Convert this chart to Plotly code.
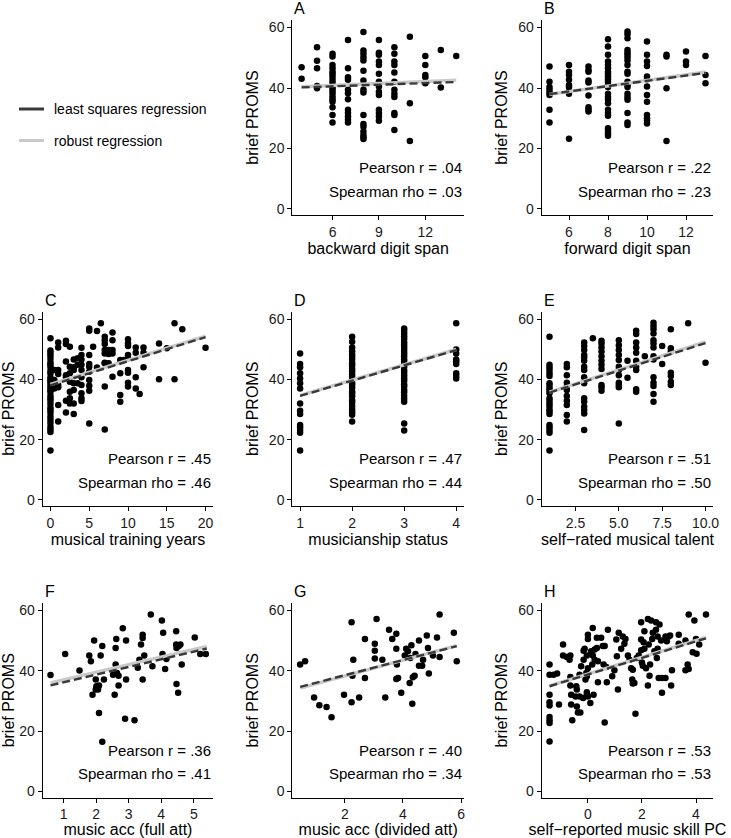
import plotly.graph_objects as go

# ---------------- data ----------------
# Panel A: backward digit span (levels) vs brief PROMS
a_levels = [4, 5, 6, 7, 8, 9, 10, 11, 12, 13, 14]
a_values = [
    [46.9, 43.1],
    [53.5, 49.0, 46.5, 40.7, 39.9],
    [51.3, 50.4, 47.6, 46.5, 45.4, 44.7, 43.8, 42.7, 41.8, 40.7, 39.9, 39.1, 38.3, 37.2, 36.3, 35.5, 33.6, 31.1, 28.6],
    [55.9, 46.5, 43.6, 42.7, 39.4, 38.3, 36.3, 32.8, 31.7, 30.6, 29.5, 28.6],
    [58.5, 52.4, 51.3, 50.2, 49.1, 45.7, 42.5, 39.4, 38.5, 31.1, 28.1, 27.2, 25.6, 24.5, 23.7, 23.1],
    [55.9, 51.7, 51.0, 48.8, 47.6, 44.7, 42.1, 40.5, 38.8, 37.7, 32.8, 31.7, 30.6, 29.2],
    [53.5, 51.3, 48.8, 47.6, 45.1, 42.1, 39.4, 38.1, 37.0, 31.7, 31.1, 26.1],
    [57.0, 35.0, 22.5],
    [50.6, 47.6, 44.3, 43.6, 41.6],
    [52.6, 40.2],
    [50.6],
]
# Panel B: forward digit span
b_levels = [5, 6, 7, 8, 9, 10, 11, 12, 13]
b_values = [
    [47.1, 42.1, 40.3, 39.4, 38.5, 37.7, 32.8, 28.6],
    [47.6, 45.4, 44.3, 42.7, 41.0, 40.3, 38.8, 38.1, 23.2],
    [47.1, 46.0, 45.4, 42.5, 41.8, 37.5, 33.6, 32.8, 32.2],
    [56.1, 53.7, 51.0, 48.8, 47.6, 46.5, 45.4, 44.7, 43.8, 42.9, 42.1, 41.0, 40.3, 38.1, 37.0, 36.1, 35.0, 32.8, 31.7, 30.8, 26.7, 25.9, 25.0, 24.2],
    [58.7, 57.8, 56.5, 52.6, 51.7, 51.0, 50.2, 49.1, 47.6, 45.4, 44.7, 42.1, 41.0, 40.3, 38.1, 37.0, 36.1, 31.7, 28.6, 27.8],
    [55.4, 51.0, 48.8, 47.3, 43.8, 42.9, 40.5, 37.7, 35.5, 31.1, 30.0, 29.2, 28.3],
    [51.0, 50.4, 39.9, 22.5],
    [52.1, 48.8, 47.6],
    [50.6, 44.3, 41.6],
]
# Panel C: musical training years
c_levels = [0, 0.5, 1, 2, 2.5, 3, 3.5, 4, 5, 5.5, 6, 6.5, 7, 7.5, 8, 9, 9.5, 10, 11, 11.5, 12, 14, 15, 16, 17, 20]
c_values = [
    [53.6, 49.6, 48.7, 47.9, 46.8, 45.6, 44.9, 44.1, 42.8, 41.9, 40.6, 39.8, 39.1, 38.2, 37.3, 36.4, 35.8, 34.6, 33.7, 32.9, 31.8, 30.6, 29.8, 28.9, 27.7, 26.6, 25.5, 24.3, 23.4, 22.5, 16.4],
    [43.1, 39.8, 37.0],
    [52.2, 50.6, 43.1, 41.8, 38.1, 37.4, 31.5, 26.0],
    [52.8, 51.7, 45.9, 41.4, 40.7, 32.9, 29.0],
    [50.8, 44.2, 42.0, 39.2, 35.9, 33.7, 32.0],
    [46.6, 44.0, 43.1, 38.7, 36.5, 32.0, 28.5],
    [47.0, 44.8, 38.7],
    [50.5, 48.1, 46.6, 44.8, 43.1, 40.7, 38.1, 35.4, 33.7, 32.8],
    [56.9, 56.1, 48.1, 45.1, 44.2, 42.5, 39.8, 37.9, 36.2, 25.4],
    [50.8],
    [56.0, 43.9],
    [58.6],
    [54.1, 53.0, 51.7, 49.7, 48.6, 45.5, 45.3, 37.6, 23.4],
    [49.7, 48.4, 45.3],
    [55.5, 53.0, 49.7, 48.6, 40.9],
    [46.4, 42.0, 34.8, 32.6],
    [46.4],
    [53.3, 51.9, 51.1, 48.1, 47.0, 43.1, 42.2, 38.9, 37.6],
    [50.6, 48.8, 40.7, 37.0],
    [35.1],
    [50.6, 48.8, 44.0],
    [51.9, 40.0],
    [50.3],
    [58.6, 40.0],
    [56.6],
    [50.5],
]
# Panel D: musicianship status
d_levels = [1, 2, 3, 4]
d_values = [
    [48.6, 45.1, 44.0, 42.0, 40.3, 38.7, 37.0, 32.0, 29.6, 28.5, 24.9, 24.1, 23.2, 22.3, 16.4],
    [54.1, 52.5, 50.6, 49.3, 48.2, 47.4, 46.5, 45.3, 44.6, 43.5, 42.7, 41.6, 40.8, 39.9, 38.8, 38.1, 37.2, 36.0, 35.3, 34.4, 33.1, 32.3, 31.2, 30.0, 29.1, 28.3, 26.0],
    [56.9, 56.1, 55.2, 54.3, 53.4, 52.2, 51.3, 50.4, 49.5, 48.6, 47.7, 46.6, 45.8, 44.9, 44.1, 43.0, 42.2, 41.3, 40.4, 39.5, 38.4, 37.6, 36.5, 35.7, 34.6, 33.6, 32.6, 25.4, 23.0],
    [58.6, 49.9, 48.6, 46.6, 45.9, 45.1, 42.0, 41.1, 40.3],
]
# Panel E: self-rated musical talent
e_levels = [1, 2, 3, 3.5, 4, 5, 5.5, 6, 6.5, 7, 7.5, 8, 9, 10]
e_values = [
    [54.1, 44.8, 44.0, 43.1, 42.0, 41.1, 38.7, 37.9, 37.0, 36.2, 35.4, 33.7, 32.9, 32.0, 31.2, 30.1, 29.3, 28.5, 24.9, 24.1, 23.2, 22.3, 16.4],
    [45.1, 44.0, 41.4, 38.9, 37.6, 36.5, 34.5, 32.9, 31.5, 28.2, 26.0],
    [52.2, 51.1, 49.7, 48.1, 47.3, 46.2, 44.2, 43.1, 40.7, 38.7, 33.7, 32.6, 30.9, 29.8, 28.7, 23.2],
    [53.6],
    [52.8, 51.9, 50.6, 49.2, 47.7, 46.2, 44.8, 43.4, 38.1, 37.4, 36.2],
    [53.0, 51.3, 49.7, 48.1, 46.4, 44.2, 43.1, 41.4, 38.9, 38.1, 37.4, 25.4],
    [46.2, 40.5],
    [56.1, 55.0, 52.2, 50.6, 48.8, 46.2, 44.2, 43.1, 36.7, 35.9],
    [47.7],
    [58.8, 57.7, 56.6, 55.2, 53.0, 51.9, 50.6, 47.7, 46.6, 40.7, 38.9, 37.8, 35.1, 32.6],
    [51.1, 45.1],
    [56.6, 50.3, 49.2, 42.2, 41.1, 39.2, 38.1],
    [58.6],
    [45.5],
]
# Panel F: music acc (full att)
f_x = [0.6, 1.05, 1.49, 1.79, 1.84, 1.94, 1.89, 1.99, 2.01, 1.99, 2.06, 2.09, 2.14, 2.19, 2.09, 2.19, 2.24,
       2.52, 2.57, 2.60, 2.62, 2.60, 2.64, 2.69, 2.69, 2.82, 2.92, 2.92, 2.89, 3.18, 3.28, 3.33, 3.38, 3.43,
       3.43, 3.43, 3.48, 3.68, 3.73, 4.02, 4.06, 4.04, 4.12, 4.16, 4.46, 4.46, 4.47, 4.47, 4.52, 4.54, 4.59,
       4.63, 5.03, 5.20, 5.37]
f_y = [38.6, 45.6, 40.1, 45.1, 43.2, 50.1, 32.1, 33.8, 34.9, 37.1, 33.8, 35.1, 45.1, 48.2, 26.0, 16.5, 37.1,
       38.7, 32.1, 47.6, 50.6, 42.1, 39.3, 38.4, 35.1, 54.1, 50.1, 37.1, 24.1, 23.6, 41.0, 43.7, 48.7, 52.0,
       50.9, 37.1, 45.1, 58.7, 41.5, 56.7, 52.6, 45.6, 40.6, 43.9, 53.1, 48.7, 47.6, 35.6, 32.7, 48.2, 48.7,
       42.1, 51.1, 45.6, 45.6]
# Panel G: music acc (divided att)
g_x = [0.46, 0.63, 0.94, 1.12, 1.37, 1.54, 1.97, 2.23, 2.29, 2.26, 2.23, 2.69, 2.69, 2.49, 3.03, 3.03, 3.03,
       3.09, 3.29, 3.39, 3.52, 3.63, 3.77, 3.77, 3.79, 3.77, 3.83, 3.94, 4.06, 4.11, 4.17, 4.23, 4.25, 4.29,
       4.32, 4.34, 4.40, 4.43, 4.55, 4.55, 4.66, 4.69, 4.82, 4.86, 4.89, 5.03, 5.17, 5.26, 5.26, 5.75, 5.85]
g_y = [42.1, 43.2, 31.2, 28.6, 28.0, 24.6, 32.1, 56.1, 43.7, 38.4, 29.6, 50.6, 37.6, 31.2, 49.0, 46.7, 44.1,
       57.2, 43.7, 31.2, 53.6, 50.6, 52.3, 47.3, 42.1, 37.3, 37.6, 32.7, 45.1, 47.3, 46.5, 36.0, 44.3, 48.5,
       29.1, 37.9, 38.4, 45.6, 50.1, 41.7, 41.7, 43.7, 51.7, 47.6, 39.1, 45.1, 51.1, 44.6, 58.7, 52.6, 43.2]
# Panel H: self-reported music skill PC
h_x = [-1.42, -1.42, -1.42, -1.42, -1.42, -1.42, -1.42, -1.42, -1.42, -1.27, -1.14, -1.07, -0.92, -0.92,
       -0.78, -0.68, -0.65, -0.58, -0.65, -0.65, -0.62, -0.62, -0.46, -0.43, -0.41, -0.41, -0.37, -0.28,
       -0.31, -0.25, -0.31, -0.18, -0.16, -0.16, -0.12, -0.09, -0.06, -0.04, -0.04, 0.0, 0.0, -0.04, -0.04,
       0.0, 0.0, 0.09, 0.12, 0.18, 0.18, 0.16, 0.25, 0.25, 0.21, 0.33, 0.33, 0.37, 0.37, 0.49, 0.55, 0.58,
       0.62, 0.62, 0.70, 0.74, 0.68, 0.90, 0.98, 1.05, 1.07, 1.11, 1.14, 1.23, 1.29, 1.35, 1.39, 1.48, 1.54,
       1.60, 1.66, 1.64, 1.66, 1.72, 1.76, 1.81, 1.88, 1.97, 1.97, 1.97, 2.00, 2.03, 2.06, 2.09, 2.09, 2.15,
       2.22, 2.22, 2.25, 2.28, 2.30, 2.34, 2.38, 2.40, 2.46, 2.52, 2.52, 2.55, 2.58, 2.58, 2.62, 2.65, 2.71,
       2.74, 2.74, 2.87, 2.87, 2.92, 2.99, 3.04, 3.08, 3.11, 3.36, 3.36, 3.61, 3.73, 3.69, 3.73, 3.61, 3.94,
       3.88, 4.02, 4.00, 4.12, 4.37]
h_y = [42.1, 38.7, 32.1, 29.6, 28.5, 24.7, 23.6, 22.7, 16.6, 38.7, 39.1, 28.8, 48.7, 45.1,
       44.6, 43.7, 45.1, 23.6, 38.0, 35.1, 32.1, 28.8, 31.5, 34.9, 33.8, 28.2, 26.2, 26.2,
       38.7, 41.5, 31.5, 31.0, 43.7, 46.7, 47.3, 37.1, 39.3, 32.9, 32.1, 31.5, 40.9, 38.2, 45.1,
       52.0, 50.6, 29.3, 46.5, 54.2, 45.1, 42.1, 47.1, 43.7, 32.1, 51.0, 47.6, 43.2, 36.2, 51.0, 48.2, 42.1,
       22.9, 48.2, 36.2, 53.6, 41.3, 38.2, 40.2, 50.4, 44.8, 33.8, 52.6, 47.3, 51.4, 49.0, 50.6, 45.1, 43.7,
       40.9, 40.4, 37.1, 35.8, 36.0, 25.8, 44.3, 45.1, 50.4, 56.1, 46.8, 42.8, 41.7, 49.5, 53.1, 47.3, 40.9,
       35.1, 57.2, 48.7, 38.4, 42.1, 56.7, 50.6, 52.6, 46.5, 56.1, 53.6, 44.3, 51.4, 47.3, 37.6, 55.4, 50.1,
       37.6, 32.7, 37.6, 51.4, 49.8, 51.4, 51.7, 35.1, 40.2, 49.0, 52.0, 50.1, 58.7, 42.1, 40.6, 40.2, 56.7,
       46.2, 45.7, 50.6, 48.7, 58.7]

# regression line end points (x range, least squares, robust)
fit_x = {"A": [4, 14], "B": [5, 13], "C": [0, 20], "D": [1, 4],
         "E": [1, 10], "F": [0.6, 5.4], "G": [0.46, 5.85], "H": [-1.42, 4.37]}
lsq_y = {"A": [40.2, 42.0], "B": [38.0, 45.0], "C": [38.0, 54.0], "D": [34.5, 49.7],
         "E": [35.6, 52.0], "F": [35.2, 47.4], "G": [34.7, 48.2], "H": [34.9, 50.8]}
rob_y = {"A": [40.4, 42.6], "B": [37.9, 45.3], "C": [38.3, 54.3], "D": [34.7, 49.9],
         "E": [35.8, 52.4], "F": [36.0, 48.1], "G": [34.3, 48.4], "H": [35.0, 51.1]}

pearson = {"A": ".04", "B": ".22", "C": ".45", "D": ".47", "E": ".51", "F": ".36", "G": ".40", "H": ".53"}
spearman = {"A": ".03", "B": ".23", "C": ".46", "D": ".44", "E": ".50", "F": ".41", "G": ".34", "H": ".53"}
x_titles = {"A": "backward digit span", "B": "forward digit span", "C": "musical training years",
            "D": "musicianship status", "E": "self\u2212rated musical talent", "F": "music acc (full att)",
            "G": "music acc (divided att)", "H": "self\u2212reported music skill PC"}
x_ticks = {"A": [6, 9, 12], "B": [6, 8, 10, 12], "C": [0, 5, 10, 15, 20], "D": [1, 2, 3, 4],
           "E": [2.5, 5.0, 7.5, 10.0], "F": [1, 2, 3, 4, 5], "G": [2, 4, 6], "H": [0, 2, 4]}
x_tick_text = {"E": ["2.5", "5.0", "7.5", "10.0"]}
x_ranges = {"A": [3.4, 14.5], "B": [4.6, 13.4], "C": [-1, 21], "D": [0.85, 4.15],
            "E": [0.55, 10.45], "F": [0.36, 5.6], "G": [0.19, 6.1], "H": [-1.71, 4.64]}
y_ticks = [0, 20, 40, 60]
y_range = [-2.0, 62.5]


def expand(levels, values):
    xs, ys = [], []
    for lv, vals in zip(levels, values):
        for v in vals:
            xs.append(lv)
            ys.append(v)
    return xs, ys


points = {
    "A": expand(a_levels, a_values),
    "B": expand(b_levels, b_values),
    "C": expand(c_levels, c_values),
    "D": expand(d_levels, d_values),
    "E": expand(e_levels, e_values),
    "F": (f_x, f_y),
    "G": (g_x, g_y),
    "H": (h_x, h_y),
}

# ---------------- layout geometry ----------------
W, H = 731, 838
col_px = [(42.7, 213.3), (292.3, 464.0), (541.7, 713.3)]
row_px = [(20, 215), (311.5, 506), (603, 797.5)]
slots = {"A": (0, 1), "B": (0, 2), "C": (1, 0), "D": (1, 1), "E": (1, 2),
         "F": (2, 0), "G": (2, 1), "H": (2, 2)}

FONT = "Liberation Sans, Arial, Helvetica, sans-serif"
DARK = "#383838"
LIGHT = "#c9c9c9"

fig = go.Figure()
layout = dict(
    width=W, height=H, margin=dict(l=0, r=0, t=0, b=0),
    paper_bgcolor="white", plot_bgcolor="white", showlegend=False,
    font=dict(family=FONT, color="black"),
)
annotations = []
shapes = []

for i, key in enumerate(["A", "B", "C", "D", "E", "F", "G", "H"], start=1):
    r, c = slots[key]
    x0, x1 = col_px[c]
    yt, yb = row_px[r]
    xs = "" if i == 1 else str(i)
    xa, ya = "x" + xs, "y" + xs
    px, py = points[key]
    fig.add_trace(go.Scatter(x=px, y=py, mode="markers", xaxis=xa, yaxis=ya,
                             marker=dict(color="black", size=6.5, line=dict(width=0))))
    fig.add_trace(go.Scatter(x=fit_x[key], y=rob_y[key], mode="lines", xaxis=xa, yaxis=ya,
                             line=dict(color=LIGHT, width=3.4)))
    fig.add_trace(go.Scatter(x=fit_x[key], y=lsq_y[key], mode="lines", xaxis=xa, yaxis=ya,
                             line=dict(color=DARK, width=2.4, dash="8px,4px")))
    common = dict(showgrid=False, zeroline=False, showline=True, linecolor="black", linewidth=1.1,
                  ticks="outside", ticklen=4, tickwidth=1.1, tickcolor="black",
                  tickfont=dict(family=FONT, size=14, color="#1a1a1a"), automargin=False)
    layout["xaxis" + xs] = dict(
        common, domain=[x0 / W, x1 / W], range=x_ranges[key], anchor=ya,
        tickvals=x_ticks[key], ticktext=x_tick_text.get(key, [str(t) for t in x_ticks[key]]),
        title=dict(text=x_titles[key], font=dict(family=FONT, size=16, color="black"), standoff=3),
    )
    layout["yaxis" + xs] = dict(
        common, domain=[1 - yb / H, 1 - yt / H], range=y_range, anchor=xa,
        tickvals=y_ticks, ticktext=[str(t) for t in y_ticks],
        title=dict(text="brief PROMS", font=dict(family=FONT, size=16, color="black"), standoff=6),
    )
    dref_x, dref_y = xa + " domain", ya + " domain"
    annotations.append(dict(text="Pearson r = " + pearson[key], xref=dref_x, yref=dref_y,
                            x=1.0, y=0.242, xanchor="right", yanchor="middle", showarrow=False,
                            font=dict(family=FONT, size=15, color="black")))
    annotations.append(dict(text="Spearman rho = " + spearman[key], xref=dref_x, yref=dref_y,
                            x=1.0, y=0.122, xanchor="right", yanchor="middle", showarrow=False,
                            font=dict(family=FONT, size=15, color="black")))
    annotations.append(dict(text=key, xref=dref_x, yref=dref_y, x=0.0, y=1 + 11.5 / (yb - yt),
                            xanchor="left", yanchor="middle", showarrow=False,
                            font=dict(family=FONT, size=16, color="black")))

# legend (top-left empty slot)
legend_items = [("least squares regression", DARK, 109), ("robust regression", LIGHT, 140.5)]
for label, color, ypx in legend_items:
    shapes.append(dict(type="line", xref="paper", yref="paper", x0=19 / W, x1=44 / W,
                       y0=1 - ypx / H, y1=1 - ypx / H, line=dict(color=color, width=3)))
    annotations.append(dict(text=label, xref="paper", yref="paper", x=52 / W, y=1 - ypx / H,
                            xanchor="left", yanchor="middle", showarrow=False,
                            font=dict(family=FONT, size=14, color="black")))

layout["annotations"] = annotations
layout["shapes"] = shapes
fig.update_layout(**layout)
fig.write_html("out.html", config={"displayModeBar": False},
               post_script="document.body.style.margin='0px';document.body.style.overflow='hidden';")
